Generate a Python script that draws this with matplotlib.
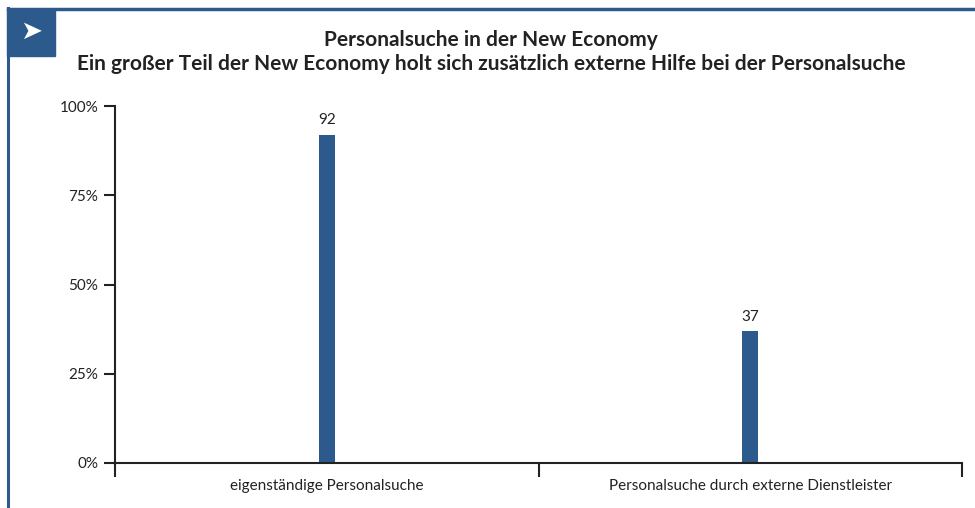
import matplotlib.pyplot as plt
from matplotlib.patches import Rectangle
from matplotlib.lines import Line2D

categories = ["eigenständige Personalsuche", "Personalsuche durch externe Dienstleister"]
values = [92, 37]
yticks = [0, 25, 50, 75, 100]
ytick_labels = ["0%", "25%", "50%", "75%", "100%"]
title1 = "Personalsuche in der New Economy"
title2 = "Ein großer Teil der New Economy holt sich zusätzlich externe Hilfe bei der Personalsuche"

blue = "#2c5a8c"
dark = "#222222"
plt.rcParams['font.family'] = ['Lato', 'DejaVu Sans']

fig = plt.figure(figsize=(9.75, 5.08), dpi=100)

# frame lines and arrow box
fig.add_artist(Line2D([8/975, 8/975], [0, 1-8/508], color=blue, lw=2.2, transform=fig.transFigure))
fig.add_artist(Line2D([8/975, 1], [1-9/508, 1-9/508], color=blue, lw=2.5, transform=fig.transFigure))
fig.add_artist(Rectangle((7/975, 1-56/508), 48/975, 47/508, color=blue, transform=fig.transFigure))
fig.text(31/975, 1-32/508, "➤", color="white", fontsize=19, ha="center", va="center",
         family=['DejaVu Sans'])

fig.text(491/975, 1-40/508, title1, ha="center", va="center", fontsize=15, fontweight="bold", color=dark)
fig.text(491/975, 1-64/508, title2, ha="center", va="center", fontsize=15, fontweight="bold", color=dark)

ax = fig.add_axes([115/975, 1-463/508, 847/975, 357/508])
x = list(range(len(categories)))
bars = ax.bar(x, values, width=0.038, color=blue)
for xi, v in zip(x, values):
    ax.text(xi, v + 2, str(v), ha="center", va="bottom", fontsize=11, color=dark)

ax.set_xlim(-0.5, len(categories) - 0.5)
ax.set_ylim(0, 100)
ax.set_yticks(yticks)
ax.set_yticklabels(ytick_labels, fontsize=11, color=dark)
ax.set_xticks([-0.5, 0.5, 1.5])
ax.set_xticklabels([])
ax.tick_params(axis="x", direction="out", length=10, width=1.5, color=dark)
ax.tick_params(axis="y", direction="out", length=8, width=1.5, color=dark, pad=4)
for xi, c in zip(x, categories):
    ax.text(xi, -4.5, c, ha="center", va="top", fontsize=11, color=dark)

for s in ["top", "right"]:
    ax.spines[s].set_visible(False)
for s in ["left", "bottom"]:
    ax.spines[s].set_linewidth(1.5)
    ax.spines[s].set_color(dark)

fig.savefig("out.png", dpi=100)
